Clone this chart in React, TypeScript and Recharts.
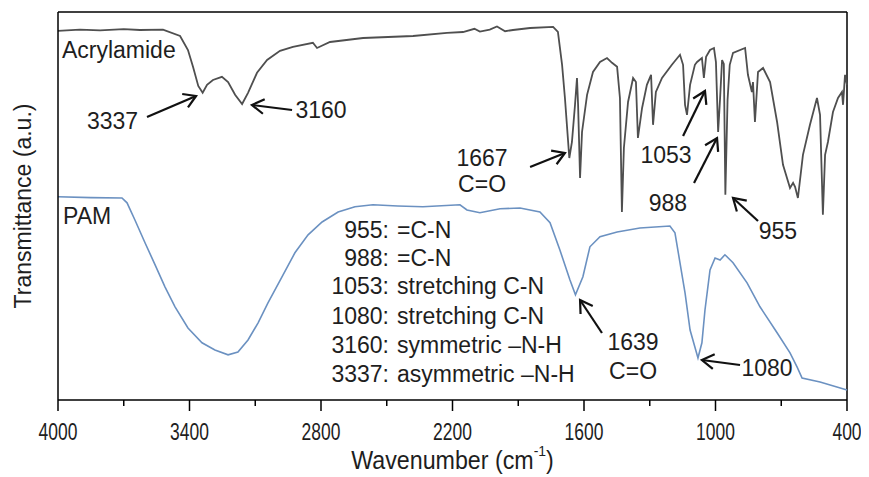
import React from "react";
import { LineChart, Line, XAxis, YAxis, ReferenceLine, ReferenceDot, Label } from "recharts";

const FONT = "'Liberation Sans', Arial, Helvetica, sans-serif";
const INK = "#1e1e1e";

// [wavenumber (cm-1), transmittance (a.u.)]
const acrylamide: [number, number][] = [
  [4000, 92.3], [3900, 92.6], [3808, 92.4], [3700, 92.7], [3626, 92.5], [3521, 92.6],
  [3443, 91], [3407, 87.5], [3384, 83.3], [3360, 78.5], [3340, 76.8], [3320, 78.8],
  [3293, 80], [3252, 80.8], [3224, 79.5], [3192, 76.3], [3160, 74], [3133, 76.8],
  [3092, 81.8], [3046, 85], [2987, 87.3], [2928, 88.3], [2837, 89.3], [2818, 88],
  [2759, 89.5], [2608, 90.5], [2380, 91], [2225, 91.8], [2152, 92], [2100, 92.8],
  [2075, 92.1], [2030, 92.6], [1997, 93.4], [1960, 92.2], [1924, 92.5], [1846, 93],
  [1741, 93.3], [1719, 92], [1700, 83.8], [1687, 75.5], [1667, 60.5], [1655, 64.5],
  [1641, 73.8], [1632, 80.5], [1627, 73.8], [1618, 55.5], [1609, 67], [1586, 76.3],
  [1559, 82], [1527, 84.5], [1495, 85.5], [1472, 84.3], [1449, 83.3], [1436, 75.5],
  [1427, 47], [1418, 63], [1399, 74.5], [1376, 80.5], [1363, 79.5], [1354, 65.5],
  [1335, 73], [1313, 78.8], [1294, 81.3], [1285, 68.8], [1272, 77], [1244, 80.5],
  [1199, 83.8], [1162, 86.3], [1148, 83.8], [1139, 73.8], [1130, 71.3], [1116, 78.8],
  [1094, 83.8], [1084, 84.5], [1062, 85.5], [1053, 80.5], [1043, 85.8], [1025, 87.5],
  [1007, 88], [998, 84.5], [988, 67], [979, 75.5], [970, 85], [962, 84], [955, 51.3],
  [945, 75], [935, 83.8], [920, 86.8], [865, 88], [852, 81.3], [834, 77], [829, 79.5],
  [820, 69.5], [806, 82], [783, 83], [751, 79.5], [719, 69.5], [692, 58.8], [660, 53],
  [646, 54.3], [637, 53.3], [624, 50.5], [601, 61.3], [569, 68.8], [537, 75.5],
  [523, 71.3], [510, 46.3], [500, 61.3], [487, 64.5], [464, 72], [441, 75.5],
  [423, 77], [418, 73.8], [409, 81.3], [400, 78.8],
];

const pam: [number, number][] = [
  [4000, 50.8], [3850, 50.6], [3708, 50.5], [3685, 49.3], [3649, 45], [3603, 39.3],
  [3557, 33.8], [3512, 28.3], [3466, 23.3], [3407, 18], [3343, 14.3], [3284, 12.5],
  [3224, 11.3], [3179, 12], [3133, 15], [3087, 19.3], [3042, 24.3], [2978, 30.8],
  [2919, 36.8], [2859, 41.3], [2795, 44.5], [2722, 47], [2645, 48.3], [2563, 48.8],
  [2450, 48.5], [2335, 48.3], [2166, 48.8], [2134, 47.5], [2075, 46.8], [1983, 47.8],
  [1892, 48], [1801, 47], [1755, 44.3], [1710, 37.5], [1664, 30], [1639, 26.3],
  [1605, 30.8], [1573, 38.3], [1527, 40.8], [1449, 42], [1345, 43], [1208, 43.5],
  [1185, 41.8], [1162, 34.3], [1139, 26.8], [1116, 17.5], [1080, 10.5], [1062, 14.3],
  [1048, 22.5], [1025, 32.5], [1002, 35.5], [979, 35], [957, 36.3], [920, 34.3],
  [856, 29.3], [797, 23.3], [719, 16.8], [660, 11.8], [628, 8.3], [605, 5.5],
  [523, 4.5], [400, 2.5],
];

const majorTicks = [4000, 3400, 2800, 2200, 1600, 1000, 400];
const allTicks = [4000, 3700, 3400, 3100, 2800, 2500, 2200, 1900, 1600, 1300, 1000, 700, 400];

// text annotations: [text, wavenumber, transmittance, anchor]
const notes: [string, number, number, string][] = [
  ["Acrylamide", 3982, 87.5, "start"],
  ["PAM", 3977, 45.9, "start"],
  ["3337", 3751, 69.75, "middle"],
  ["3160", 2800, 72.5, "middle"],
  ["1667", 2065, 60.5, "middle"],
  ["C=O", 2065, 54, "middle"],
  ["1053", 1226, 61.25, "middle"],
  ["988", 1217, 49.25, "middle"],
  ["955", 715, 42.25, "middle"],
  ["1639", 1376, 14.5, "middle"],
  ["C=O", 1376, 7.25, "middle"],
  ["1080", 765, 8, "middle"],
];

// arrows: tail -> tip, [wn, t, wn, t]
const arrows: [number, number, number, number][] = [
  [3594, 70.75, 3370, 76],
  [2932, 72.5, 3115, 73.75],
  [1846, 58.25, 1687, 61.75],
  [1148, 66, 1048, 77.25],
  [1098, 54.25, 993, 65.5],
  [806, 44.75, 920, 50.5],
  [1518, 16.75, 1618, 25],
  [888, 8.75, 1062, 10],
];

const bandNumbers = ["955:", "988:", "1053:", "1080:", "3160:", "3337:"];
const bandNames = ["=C-N", "=C-N", "stretching C-N", "stretching C-N", "symmetric \u2013N-H", "asymmetric \u2013N-H"];
const bandRowT = [42.6, 35.6, 28.5, 21.1, 13.75, 6.6];

const toRows = (d: [number, number][]) => d.map(([wn, t]) => ({ wn, t }));

function WnTick({ x, y, payload }: any) {
  const major = majorTicks.includes(payload.value);
  return (
    <g>
      <line x1={x} y1={y} x2={x} y2={y + (major ? 11 : 6)} stroke="#000" strokeWidth={1.5} />
      {major && (
        <text
          transform={`translate(${x},${y + 32}) scale(0.76,1)`}
          textAnchor="middle"
          dominantBaseline="central"
          fontSize={23}
          fontFamily={FONT}
          fill={INK}
        >
          {payload.value}
        </text>
      )}
    </g>
  );
}

function arrowShape(p: any) {
  const { x1, y1, x2, y2 } = p;
  const a = Math.atan2(y2 - y1, x2 - x1);
  const L = 14;
  const w = 0.55;
  const h1 = [x2 - L * Math.cos(a - w), y2 - L * Math.sin(a - w)];
  const h2 = [x2 - L * Math.cos(a + w), y2 - L * Math.sin(a + w)];
  return (
    <g>
      <line x1={x1} y1={y1} x2={x2} y2={y2} stroke="#111" strokeWidth={2.2} />
      <polyline points={`${h1[0]},${h1[1]} ${x2},${y2} ${h2[0]},${h2[1]}`} fill="none" stroke="#111" strokeWidth={2.2} />
    </g>
  );
}

const textShape = (txt: string, anchor: string) => (p: any) => (
  <text x={p.cx} y={p.cy} textAnchor={anchor} dominantBaseline="central" fontSize={23} fontFamily={FONT} fill={INK}>
    {txt}
  </text>
);

export default function App() {
  return (
    <div style={{ width: 861, height: 469 }}>
      <LineChart width={861} height={469} margin={{ top: 4, right: 22, bottom: 9, left: 0 }}>
        <XAxis
          dataKey="wn"
          type="number"
          domain={[400, 4000]}
          reversed
          ticks={allTicks}
          interval={0}
          tickSize={0}
          tickMargin={0}
          tickLine={false}
          tick={<WnTick />}
          height={68}
          axisLine={{ stroke: "#000", strokeWidth: 1.5 }}
        >
          <Label
            content={({ viewBox }: any) => (
              <text
                transform={`translate(${viewBox.x + viewBox.width / 2},${viewBox.y + 60}) scale(0.93,1)`}
                textAnchor="middle"
                dominantBaseline="central"
                fontSize={25}
                fontFamily={FONT}
                fill={INK}
              >
                Wavenumber (cm
                <tspan fontSize={15} dy={-9}>-1</tspan>
                <tspan dy={9}>)</tspan>
              </text>
            )}
          />
        </XAxis>
        <YAxis
          type="number"
          domain={[0, 97]}
          width={50}
          tick={false}
          tickLine={false}
          axisLine={{ stroke: "#000", strokeWidth: 1.5 }}
        >
          <Label
            content={({ viewBox }: any) => (
              <text
                transform={`translate(${viewBox.x + 14.5},${viewBox.y + viewBox.height / 2}) rotate(-90)`}
                textAnchor="middle"
                dominantBaseline="central"
                fontSize={23}
                fontFamily={FONT}
                fill={INK}
              >
                Transmittance (a.u.)
              </text>
            )}
          />
        </YAxis>
        <ReferenceLine y={97} stroke="#000" strokeWidth={1.5} />
        <ReferenceLine x={400} stroke="#000" strokeWidth={1.5} />
        <Line
          data={toRows(pam)}
          dataKey="t"
          type="linear"
          stroke="#6b91c1"
          strokeWidth={1.6}
          dot={false}
          isAnimationActive={false}
        />
        <Line
          data={toRows(acrylamide)}
          dataKey="t"
          type="linear"
          stroke="#4f4f4f"
          strokeWidth={1.8}
          dot={false}
          isAnimationActive={false}
        />
        {arrows.map(([wx, tx, wy, ty], i) => (
          <ReferenceLine key={`ar-${i}`} segment={[{ x: wx, y: tx }, { x: wy, y: ty }]} shape={arrowShape} />
        ))}
        {notes.map(([txt, wn, t, anchor], i) => (
          <ReferenceDot key={`nt-${i}`} x={wn} y={t} r={0} shape={textShape(txt, anchor)} />
        ))}
        {bandNumbers.map((num, i) => (
          <ReferenceDot key={`bn-${i}`} x={2490} y={bandRowT[i]} r={0} shape={textShape(num, "end")} />
        ))}
        {bandNames.map((name, i) => (
          <ReferenceDot key={`bd-${i}`} x={2453} y={bandRowT[i]} r={0} shape={textShape(name, "start")} />
        ))}
      </LineChart>
    </div>
  );
}
